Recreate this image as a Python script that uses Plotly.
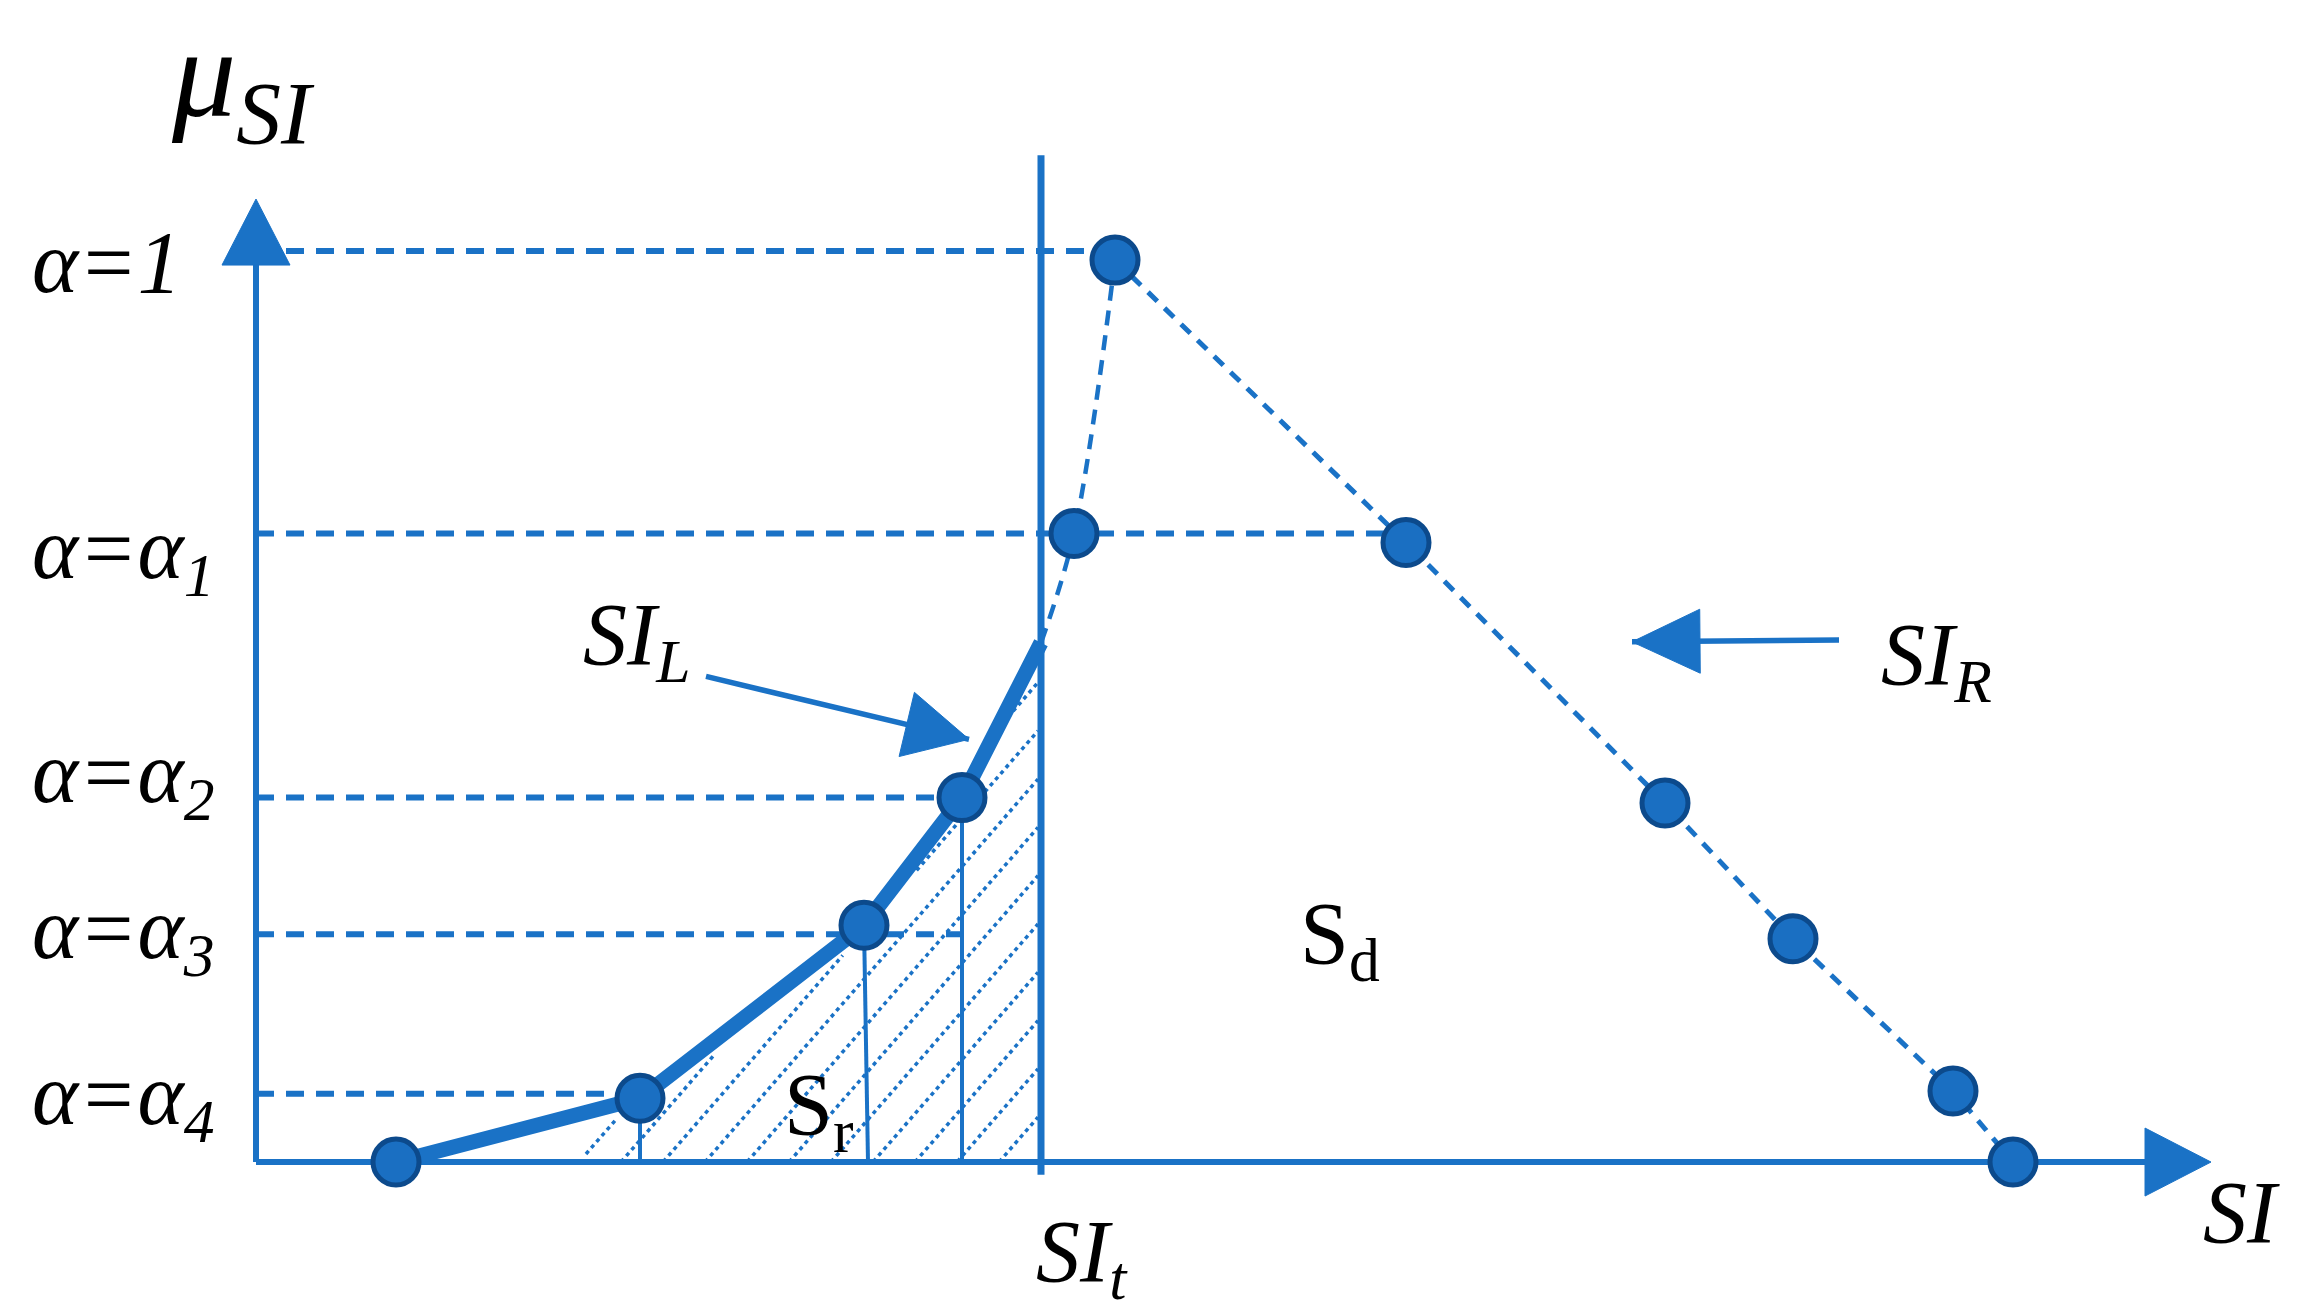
import numpy as np
import plotly.graph_objects as go

BLUE = "#1a72c6"
DOT_FILL = "#1a6fc2"
DOT_EDGE = "#0c4a8c"
FONT = "Liberation Serif"

# alpha-cut levels, their labels and where each dashed guide stops
alpha_levels = [1.0, 0.69, 0.40, 0.25, 0.075]
alpha_labels = ["α=1", "α=α<sub>1</sub>", "α=α<sub>2</sub>", "α=α<sub>3</sub>", "α=α<sub>4</sub>"]
alpha_label_mu = [0.987, 0.667, 0.4215, 0.25, 0.068]
alpha_line_end = [8.59, 11.50, 7.06, 7.06, 3.70]

# left branch SI_L (thick solid) up to the threshold SI_t
left_si = [1.40, 3.84, 6.08, 7.06, 7.85]
left_mu = [0.0, 0.07, 0.26, 0.40, 0.57]
# rest of the left branch above SI_t (dashed)
upper_si = [7.85, 8.18, 8.59]
upper_mu = [0.57, 0.69, 0.99]
# right branch SI_R (dashed)
right_si = [8.59, 11.50, 14.09, 15.37, 16.97, 17.57]
right_mu = [0.99, 0.68, 0.394, 0.245, 0.078, 0.0]

# marked alpha-cut points
point_si = [1.40, 3.84, 6.08, 7.06, 8.18, 8.59, 11.50, 14.09, 15.37, 16.97, 17.57]
point_mu = [0.0, 0.07, 0.26, 0.40, 0.69, 0.99, 0.68, 0.394, 0.245, 0.078, 0.0]

# thin drop lines from the left points to the axis
drop_top_si = [3.84, 6.08, 7.06]
drop_bot_si = [3.84, 6.12, 7.06]
drop_mu = [0.07, 0.26, 0.40]

si_t = 7.85
si_t_top = 1.105
hatch_from = 3.3
hatch_step = 0.42

x_axis_end = 19.55
y_axis_end = 1.057

# figure geometry (pixels per data unit)
W, H = 2316, 1314
X0, X1 = -2.56, 20.60
Y0, Y1 = -0.1668, 1.2755
PX_X = W / (X1 - X0)
PX_Y = H / (Y1 - Y0)

fig = go.Figure()


def add_line(xs, ys, width, dash="solid", color=BLUE):
    fig.add_trace(go.Scatter(x=xs, y=ys, mode="lines", hoverinfo="skip",
                             line=dict(color=color, width=width, dash=dash)))


def add_head(tail, tip, length, width):
    # triangle arrow head built in pixel space, then mapped back to data units
    dx = (tip[0] - tail[0]) * PX_X
    dy = -(tip[1] - tail[1]) * PX_Y
    n = np.hypot(dx, dy)
    ux, uy = dx / n, dy / n
    px, py = -uy, ux
    bx, by = -ux * length, -uy * length
    pts = [(0, 0), (bx + px * width / 2, by + py * width / 2), (bx - px * width / 2, by - py * width / 2), (0, 0)]
    xs = [tip[0] + p[0] / PX_X for p in pts]
    ys = [tip[1] - p[1] / PX_Y for p in pts]
    fig.add_trace(go.Scatter(x=xs, y=ys, mode="lines", fill="toself", fillcolor=BLUE,
                             line=dict(color=BLUE, width=1), hoverinfo="skip"))


# hatching of S_r: slanted lines clipped to the area under the solid branch
slope = 1.15 * PX_X / PX_Y
hx, hy = [], []
grid = np.linspace(hatch_from, si_t - 0.03, 1200)
curve = np.interp(grid, left_si, left_mu) - 0.015
for c in np.arange(si_t, hatch_from - max(left_mu) / slope, -hatch_step):
    line = slope * (grid - c)
    ok = (line >= 0) & (line <= curve)
    idx = np.where(ok)[0]
    if len(idx) < 3:
        continue
    for run in np.split(idx, np.where(np.diff(idx) > 1)[0] + 1):
        if len(run) < 3:
            continue
        hx += [grid[run[0]], grid[run[-1]], None]
        hy += [line[run[0]], line[run[-1]], None]
add_line(hx, hy, 3.5, dash="4px,4px")

# axes
add_line([0, 0], [0, y_axis_end - 0.06], 6)
add_line([0, x_axis_end - 0.6], [0, 0], 6)
add_head((0, 0), (0, y_axis_end), 66, 68)
add_head((0, 0), (x_axis_end, 0), 66, 68)

# alpha-cut guide lines
for lvl, end in zip(alpha_levels, alpha_line_end):
    add_line([0, end], [lvl, lvl], 6, dash="18px,12px")

# threshold SI_t
add_line([si_t, si_t], [-0.014, si_t_top], 7)

# drop lines
for t, b, m in zip(drop_top_si, drop_bot_si, drop_mu):
    add_line([t, b], [m, 0], 4)

# membership function
add_line(left_si, left_mu, 15)
fig.add_trace(go.Scatter(x=upper_si, y=upper_mu, mode="lines", hoverinfo="skip",
                         line=dict(color=BLUE, width=4.5, dash="15px,10px", shape="spline")))
add_line(right_si, right_mu, 5, dash="13px,10px")

fig.add_trace(go.Scatter(x=point_si, y=point_mu, mode="markers", hoverinfo="skip",
                         marker=dict(size=46, color=DOT_FILL, line=dict(color=DOT_EDGE, width=5))))

# pointer arrows for SI_L and SI_R
sil_tail, sil_tip = (4.50, 0.533), (7.13, 0.464)
sir_tail, sir_tip = (15.83, 0.573), (13.76, 0.571)
add_line([sil_tail[0], sil_tip[0]], [sil_tail[1], sil_tip[1]], 5.5)
add_head(sil_tail, sil_tip, 64, 66)
add_line([sir_tail[0], sir_tip[0]], [sir_tail[1], sir_tip[1]], 5.5)
add_head(sir_tail, sir_tip, 68, 64)


# text
def note(x, y, text, size=88, xanchor="center"):
    fig.add_annotation(x=x, y=y, text=text, showarrow=False, xanchor=xanchor, yanchor="middle",
                       font=dict(family=FONT, size=size, color="black"))


for lab, m in zip(alpha_labels, alpha_label_mu):
    note(-2.26, m, "<i>" + lab + "</i>", xanchor="left")

note(-0.13, 1.185, "<i>μ<sub>SI</sub></i>", size=128)
note(3.81, 0.573, "<i>SI<sub>L</sub></i>")
note(16.80, 0.551, "<i>SI<sub>R</sub></i>")
note(19.85, -0.055, "<i>SI</i>")
note(8.26, -0.105, "<i>SI<sub>t</sub></i>")
note(5.62, 0.057, "S<sub>r</sub>")
note(10.84, 0.244, "S<sub>d</sub>")

fig.update_layout(
    width=W, height=H,
    margin=dict(l=0, r=0, t=0, b=0),
    paper_bgcolor="white", plot_bgcolor="white",
    showlegend=False,
    xaxis=dict(range=[X0, X1], visible=False, fixedrange=True),
    yaxis=dict(range=[Y0, Y1], visible=False, fixedrange=True),
)

fig.write_html("out.html", config={"displayModeBar": False},
               post_script="document.body.style.margin='0';document.body.style.overflow='hidden';")
